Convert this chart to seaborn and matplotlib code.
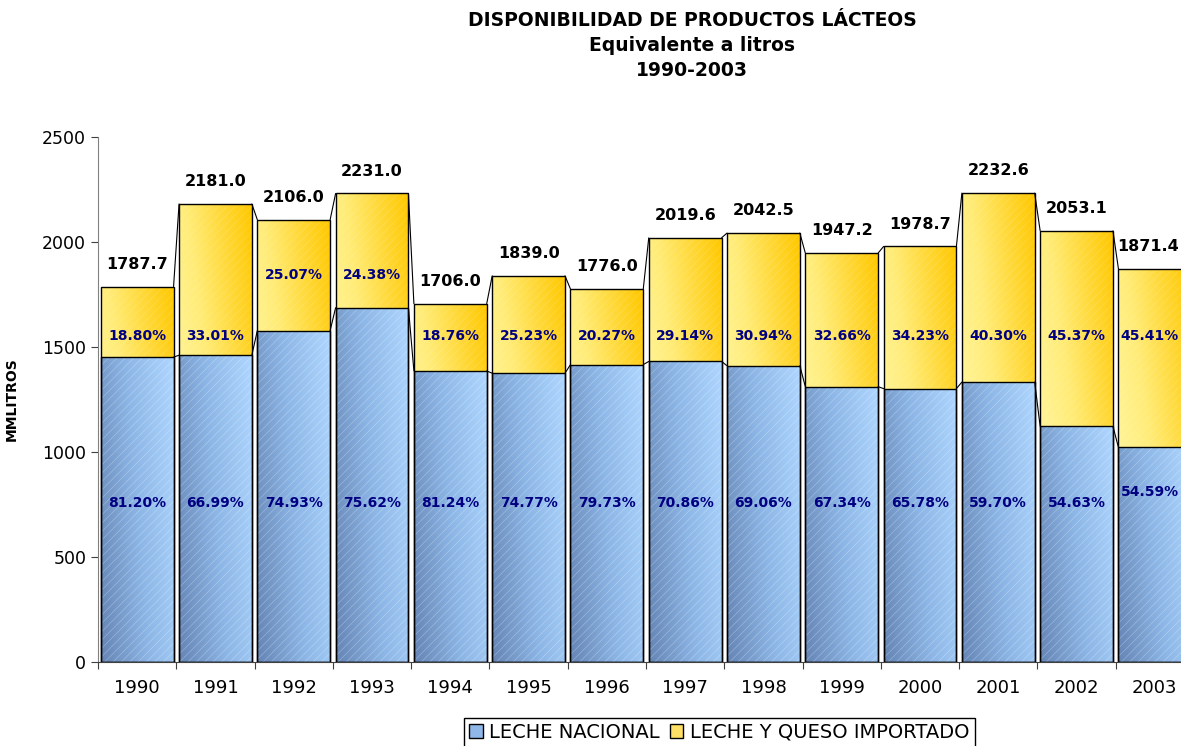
import seaborn as sns
import matplotlib.pyplot as plt
import pandas as pd
import numpy as np
from matplotlib.colors import LinearSegmentedColormap
from matplotlib.patches import Patch

years = ["1990", "1991", "1992", "1993", "1994", "1995", "1996",
         "1997", "1998", "1999", "2000", "2001", "2002", "2003"]
nacional = [1451.6, 1461.0, 1578.0, 1687.1, 1386.0, 1375.0, 1416.0,
            1431.1, 1410.6, 1311.2, 1301.6, 1332.9, 1121.6, 1021.6]
importado = [336.1, 720.0, 528.0, 543.9, 320.0, 464.0, 360.0,
             588.5, 631.9, 636.0, 677.1, 899.7, 931.5, 849.8]
totales = ["1787.7", "2181.0", "2106.0", "2231.0", "1706.0", "1839.0", "1776.0",
           "2019.6", "2042.5", "1947.2", "1978.7", "2232.6", "2053.1", "1871.4"]
pct_nac = ["81.20%", "66.99%", "74.93%", "75.62%", "81.24%", "74.77%", "79.73%",
           "70.86%", "69.06%", "67.34%", "65.78%", "59.70%", "54.63%", "54.59%"]
pct_imp = ["18.80%", "33.01%", "25.07%", "24.38%", "18.76%", "25.23%", "20.27%",
           "29.14%", "30.94%", "32.66%", "34.23%", "40.30%", "45.37%", "45.41%"]

df = pd.DataFrame({"anio": years, "nacional": nacional, "importado": importado})
df["total"] = df["nacional"] + df["importado"]

sns.set_style("white")
plt.rcParams["font.family"] = ["DejaVu Sans"]
plt.rcParams["text.color"] = "black"
plt.rcParams["axes.labelcolor"] = "black"
plt.rcParams["xtick.color"] = "black"
plt.rcParams["ytick.color"] = "black"
plt.rcParams["hatch.linewidth"] = 0.5

fig = plt.figure(figsize=(11.81, 7.46), dpi=100)
ax = fig.add_axes([0.083, 0.1126, 0.928, 0.7038])

ancho = 0.93
sns.barplot(data=df, x="anio", y="total", color="#ffe066", width=ancho,
            edgecolor="black", linewidth=1.0, ax=ax)
n_tot = len(ax.patches)
sns.barplot(data=df, x="anio", y="nacional", color="#8fb8e8", width=ancho,
            edgecolor="black", linewidth=1.0, ax=ax)

cmap_amar = LinearSegmentedColormap.from_list("amar", ["#fffcb8", "#ffec78", "#ffc800"])
cmap_azul = LinearSegmentedColormap.from_list("azul", ["#6585b5", "#8cb6e6", "#aed6ff"])

gx, gy = np.meshgrid(np.linspace(0, 1, 60), np.linspace(0, 1, 200))
for k, p in enumerate(list(ax.patches)):
    x0, y0 = p.get_x(), p.get_y()
    w, h = p.get_width(), p.get_height()
    if k < n_tot:
        grad = 0.55 * gx + 0.45 * gy
        cm = cmap_amar
    else:
        grad = 0.75 * gx + 0.25 * gy
        cm = cmap_azul
    im = ax.imshow(grad, cmap=cm, extent=[x0, x0 + w, y0, y0 + h],
                   origin="lower", aspect="auto", zorder=p.get_zorder(),
                   interpolation="bilinear")
    im.set_clip_path(p)
    p.set_facecolor("none")
    p.set_zorder(p.get_zorder() + 0.2)
    # textura diagonal suave
    ax.bar(x0 + w / 2, h, bottom=y0, width=w, facecolor="none",
           edgecolor=(1, 1, 1, 0.16), linewidth=0, hatch="////",
           zorder=p.get_zorder() - 0.1)

# lineas de serie entre barras
tot = df["total"].values
for i in range(len(years) - 1):
    ax.plot([i + ancho / 2, i + 1 - ancho / 2], [tot[i], tot[i + 1]],
            color="black", lw=0.8, zorder=5)
    ax.plot([i + ancho / 2, i + 1 - ancho / 2], [nacional[i], nacional[i + 1]],
            color="black", lw=0.8, zorder=5)

# etiquetas
ultimo = len(years) - 1
for i in range(len(years)):
    xt, ha = (13.31, "right") if i == ultimo else (i, "center")
    ax.text(xt, tot[i] + 70, totales[i], ha=ha, va="bottom",
            fontsize=11.5, fontweight="bold", zorder=6)
    y_nac = 810 if i == ultimo else 757
    ax.text(xt, y_nac, pct_nac[i], ha=ha, va="center",
            fontsize=10, fontweight="bold", color="#000080", zorder=6)
    y_imp = 1550 if nacional[i] < 1500 else 1843
    ax.text(xt, y_imp, pct_imp[i], ha=ha, va="center",
            fontsize=10, fontweight="bold", color="#000080", zorder=6)

ax.set_xlim(-0.5, 13.5)
ax.set_ylim(0, 2500)
ax.set_yticks(range(0, 2501, 500))
ax.set_xlabel("")
ax.set_ylabel("MMLITROS", fontsize=10, fontweight="bold")
ax.yaxis.set_label_coords(-0.072, 0.5)

ax.set_xticks(range(len(years)))
ax.set_xticklabels(years, fontsize=13)
ax.set_xticks(np.arange(-0.5, 14, 1), minor=True)
ax.tick_params(axis="x", which="major", length=0, pad=12)
ax.tick_params(axis="x", which="minor", length=5, width=0.8, color="#404040", direction="out")
ax.tick_params(axis="y", labelsize=12.5, length=5, width=0.8, color="#404040", direction="out", left=True)
ax.tick_params(axis="x", bottom=True, which="both")

for s in ["top", "right"]:
    ax.spines[s].set_visible(False)
ax.spines["left"].set_color("#808080")
ax.spines["bottom"].set_color("#404040")

for y, txt in [(0.972, "DISPONIBILIDAD DE PRODUCTOS LÁCTEOS"),
               (0.939, "Equivalente a litros"), (0.905, "1990-2003")]:
    fig.text(0.586, y, txt, ha="center", va="center", fontsize=13.5, fontweight="bold")

handles = [Patch(facecolor="#8fb8e8", edgecolor="black", label="LECHE NACIONAL"),
           Patch(facecolor="#ffe066", edgecolor="black", label="LECHE Y QUESO IMPORTADO")]
fig.legend(handles=handles, loc="upper left", bbox_to_anchor=(0.393, 0.0375),
           ncol=2, frameon=True, fancybox=False, edgecolor="black",
           fontsize=14, handlelength=0.7, handleheight=0.7, handletextpad=0.35,
           columnspacing=0.5, borderpad=0.25, borderaxespad=0, framealpha=1)

fig.savefig("out.png", dpi=100)
